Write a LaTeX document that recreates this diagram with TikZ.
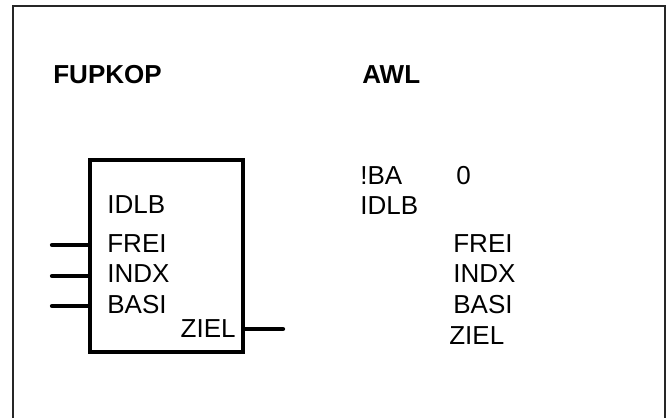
\documentclass[tikz,border=0pt]{standalone}
\usepackage{fontspec}
\setmainfont{Liberation Sans}
\begin{document}
\begin{tikzpicture}[
    titel/.style={anchor=base west, inner sep=0pt, font=\fontsize{14.8}{17}\selectfont\bfseries},
    sig/.style={anchor=base west, inner sep=0pt, font=\fontsize{14.8}{17}\selectfont},
    fbox/.style={draw, line width=2.4pt, minimum width=3.06cm, minimum height=3.84cm, inner sep=0pt},
    wire/.style={line width=2.4pt, line cap=round}
]
\useasboundingbox (0, 0) rectangle (13.42, 8.36);
% Rahmen
\draw[black!85, line width=0.9pt] (0.26, 0) -- (0.26, 8.24) -- (13.30, 8.24) -- (13.30, 0);

% Header row
\node[titel] (fupkop) at (1.06, 6.70) {FUPKOP};
\node[titel] (awl) at (7.24, 6.70) {AWL};

% Baustein
\node[fbox] (fb) at (3.33, 3.24) {};
\node[sig] (idlb) at (2.14, 4.10) {IDLB};
\node[sig] (frei) at (2.14, 3.32) {FREI};
\node[sig] (indx) at (2.14, 2.72) {INDX};
\node[sig] (basi) at (2.14, 2.10) {BASI};
\node[sig, anchor=base east] (ziel) at (4.72, 1.62) {ZIEL};

% Anschluesse
\coordinate (e1) at (1.04, 3.46);
\coordinate (e2) at (1.04, 2.84);
\coordinate (e3) at (1.04, 2.24);
\coordinate (a1) at (5.66, 1.78);
\draw[wire] (e1) -- (e1 -| fb.west);
\draw[wire] (e2) -- (e2 -| fb.west);
\draw[wire] (e3) -- (e3 -| fb.west);
\draw[wire] (a1 -| fb.east) -- (a1);

% AWL
\node[sig] (ba) at (7.20, 4.68) {!BA};
\node[sig] (null) at (9.12, 4.68) {0};
\node[sig] (aidlb) at (7.20, 4.08) {IDLB};
\node[sig] (afrei) at (9.06, 3.32) {FREI};
\node[sig] (aindx) at (9.06, 2.72) {INDX};
\node[sig] (abasi) at (9.06, 2.10) {BASI};
\node[sig] (aziel) at (8.98, 1.48) {ZIEL};
\end{tikzpicture}
\end{document}
